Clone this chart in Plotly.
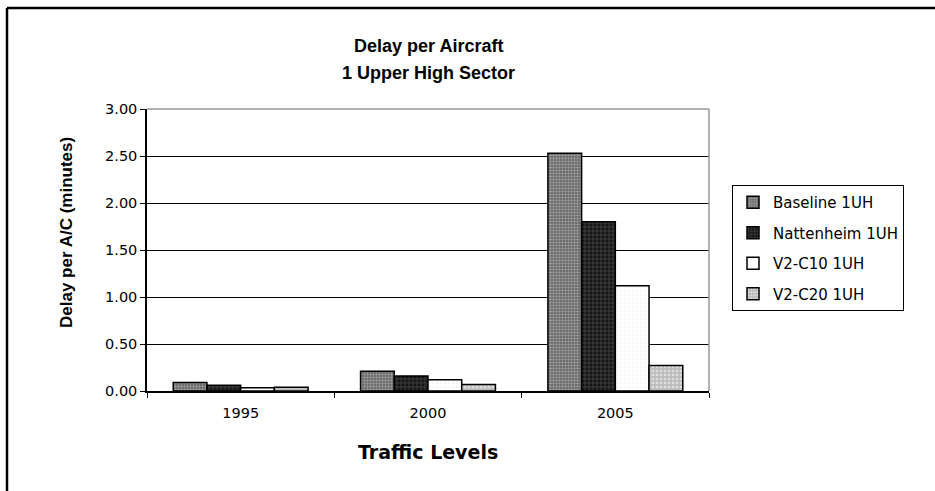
import plotly.graph_objects as go

# Traffic level categories and delay per aircraft (minutes)
years = ["1995", "2000", "2005"]
baseline = [0.09, 0.21, 2.53]
nattenheim = [0.06, 0.16, 1.80]
v2_c10 = [0.035, 0.12, 1.12]
v2_c20 = [0.04, 0.07, 0.27]
y_ticks = [0.0, 0.5, 1.0, 1.5, 2.0, 2.5, 3.0]
y_tick_text = ["0.00", "0.50", "1.00", "1.50", "2.00", "2.50", "3.00"]

W, H = 935, 491
ML, MR, MT, MB = 147, 226, 109, 100
PW, PH = W - ML - MR, H - MT - MB

TICK_FONT = "DejaVu Sans, Verdana, sans-serif"
HEAD_FONT = "Liberation Sans, Arial, sans-serif"

series = [
    ("Baseline 1UH", baseline, dict(shape=".", fgcolor="#dcdcdc", bgcolor="#5e5e5e", size=3, solidity=0.5)),
    ("Nattenheim 1UH", nattenheim, dict(shape="+", fgcolor="#8a8a8a", bgcolor="#151515", size=4, solidity=0.3)),
    ("V2-C10 1UH", v2_c10, dict(shape=".", fgcolor="#e8e8e8", bgcolor="#ffffff", size=4, solidity=0.2)),
    ("V2-C20 1UH", v2_c20, dict(shape=".", fgcolor="#ffffff", bgcolor="#bdbdbd", size=4, solidity=0.35)),
]

fig = go.Figure()
for i, (name, vals, pat) in enumerate(series):
    fig.add_trace(go.Bar(
        x=years, y=vals, name=name, legendgroup=f"g{i}",
        marker=dict(color=pat["bgcolor"], pattern=pat,
                    line=dict(color="#000000", width=1.5)),
    ))


def px_x(px):
    return (px - ML) / PW


def px_y(py):
    return (H - MB - py) / PH


shapes = [
    # plot-area top and right borders
    dict(type="line", xref="x domain", yref="y domain", x0=0, x1=1, y0=1, y1=1,
         line=dict(color="#9a9a9a", width=1.5)),
    dict(type="line", xref="x domain", yref="y domain", x0=1, x1=1, y0=0, y1=1,
         line=dict(color="#9a9a9a", width=1.5)),
    # chart frame
    dict(type="line", xref="paper", yref="paper", x0=px_x(7), x1=px_x(W + 5),
         y0=px_y(8), y1=px_y(8), line=dict(color="#000000", width=2.5)),
    dict(type="line", xref="paper", yref="paper", x0=px_x(7), x1=px_x(7),
         y0=px_y(8), y1=px_y(H + 5), line=dict(color="#000000", width=2.5)),
]

annotations = [
    dict(text="<b>Delay per Aircraft</b>", x=px_x(428), y=px_y(46),
         xref="paper", yref="paper", xanchor="center", yanchor="middle", showarrow=False,
         font=dict(family=HEAD_FONT, size=18, color="#000000")),
    dict(text="<b>1 Upper High Sector</b>", x=px_x(428), y=px_y(73),
         xref="paper", yref="paper", xanchor="center", yanchor="middle", showarrow=False,
         font=dict(family=HEAD_FONT, size=18, color="#000000")),
    dict(text="<b>Delay per A/C (minutes)</b>", x=px_x(66), y=px_y(233), textangle=-90,
         xref="paper", yref="paper", xanchor="center", yanchor="middle", showarrow=False,
         font=dict(family=HEAD_FONT, size=17, color="#000000")),
    dict(text="<b>Traffic Levels</b>", x=px_x(428), y=px_y(452),
         xref="paper", yref="paper", xanchor="center", yanchor="middle", showarrow=False,
         font=dict(family=TICK_FONT, size=19, color="#000000")),
]

fig.update_layout(
    width=W, height=H,
    margin=dict(l=ML, r=MR, t=MT, b=MB),
    paper_bgcolor="white", plot_bgcolor="white",
    barmode="group", bargap=0.28, bargroupgap=0,
    font=dict(family=TICK_FONT, size=14, color="#000000"),
    legend=dict(
        x=px_x(732), y=px_y(185), xanchor="left", yanchor="top",
        bordercolor="#000000", borderwidth=1, bgcolor="white",
        font=dict(family=TICK_FONT, size=15, color="#000000"),
        tracegroupgap=8, traceorder="grouped", itemwidth=30,
    ),
    shapes=shapes,
    annotations=annotations,
    showlegend=True,
)

fig.update_xaxes(
    showline=True, linecolor="#000000", linewidth=1.5,
    ticks="outside", ticklen=5, tickcolor="#000000", tickson="boundaries",
    tickfont=dict(size=14.5), showgrid=False, ticklabelstandoff=8,
)
fig.update_yaxes(
    range=[0, 3], tickvals=y_ticks, ticktext=y_tick_text,
    showline=True, linecolor="#000000", linewidth=1.5,
    ticks="outside", ticklen=5, tickcolor="#000000",
    showgrid=True, gridcolor="#000000", gridwidth=1.2,
    zeroline=False, tickfont=dict(size=14.5),
)

fig.write_html("out.html")
